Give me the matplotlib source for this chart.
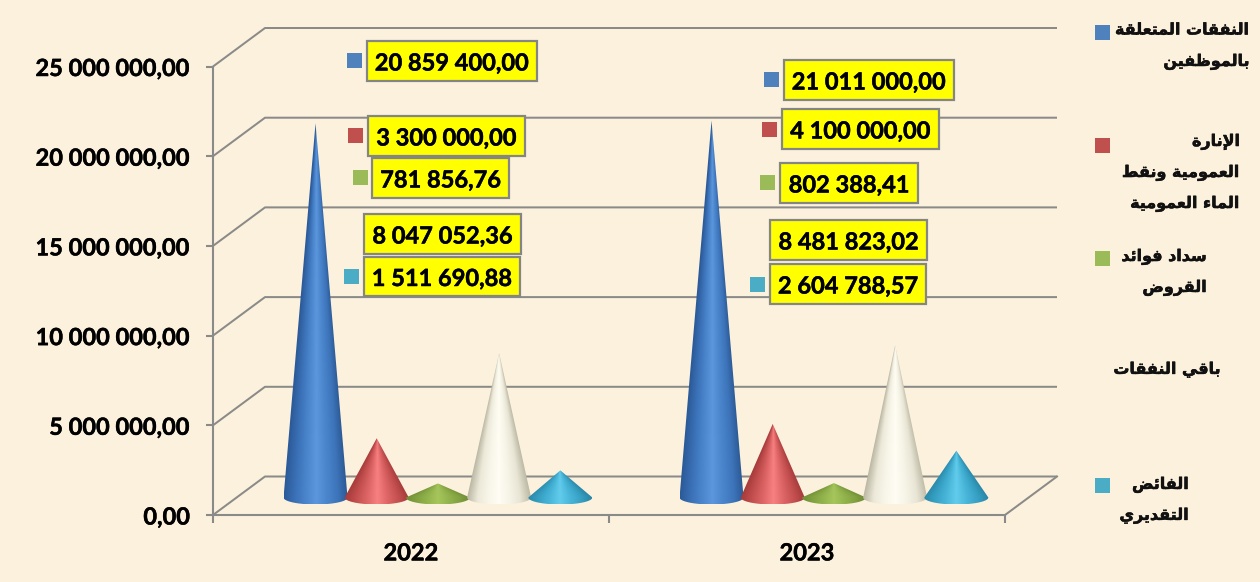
import numpy as np
import matplotlib
matplotlib.use("Agg")
import matplotlib.pyplot as plt
import matplotlib.patheffects as pe
from matplotlib.colors import to_rgb
from matplotlib.patches import Polygon, Rectangle
from matplotlib.ticker import FuncFormatter

# ---------- data ----------
years = ["2022", "2023"]
staff = [20859400.00, 21011000.00]
lighting = [3300000.00, 4100000.00]
interest = [781856.76, 802388.41]
other = [8047052.36, 8481823.02]
surplus = [1511690.88, 2604788.57]
series_values = [staff, lighting, interest, other, surplus]
series_names = [
    ["النفقات المتعلقة", "بالموظفين"],
    ["الإنارة", "العمومية ونقط", "الماء العمومية"],
    ["سداد فوائد", "القروض"],
    ["باقي النفقات"],
    ["الفائض", "التقديري"],
]
y_ticks = [0, 5000000, 10000000, 15000000, 20000000, 25000000]

# ---------- style ----------
BG = "#FCF1DD"
GRID = "#8A8A88"
key_colors = ["#4F81BD", "#C0504D", "#9BBB59", None, "#4BACC6"]
cone_stops = [
    ["#2C5A98", "#3A70B6", "#4A85CC", "#5C97DE", "#4A85CC", "#3D74BA", "#2A5690"],
    ["#A63A3A", "#C24E4E", "#DC6464", "#F98080", "#DC6464", "#C24E4E", "#A23838"],
    ["#6F8E36", "#82A140", "#93B44D", "#A6C65C", "#93B44D", "#82A140", "#6C8A34"],
    ["#B9B5A2", "#ECE9D9", "#F8F6E9", "#FFFDF4", "#F6F4E6", "#E8E5D5", "#BDB9A6"],
    ["#2A88A8", "#36A0C3", "#48B5D8", "#62CCEC", "#48B5D8", "#36A0C3", "#2884A4"],
]
# label boxes in pixels: left, top, right, bottom, key centre x, key centre y
box_layout = [
    [(367, 41, 537, 81, 354, 60), (784, 60, 954, 100, 771, 79)],
    [(368, 116, 525, 156, 355, 135), (782, 109, 939, 149, 769, 129)],
    [(372, 158, 509, 198, 360, 177), (780, 163, 918, 203, 767, 182)],
    [(364, 214, 521, 254, None, None), (770, 220, 927, 260, None, None)],
    [(364, 257, 520, 296, 351, 276), (770, 264, 926, 304, 757, 284)],
]
# legend: key top y, right edge of text, y of each text line
legend_layout = [
    (25, 1250, [30, 62]),
    (138, 1240, [142, 173, 204]),
    (251, 1207, [257, 288]),
    (None, 1221, [370]),
    (478, 1189, [485, 516]),
]

plt.rcParams["font.family"] = ["Lato", "DejaVu Sans"]

# ---------- Arabic shaping (matplotlib has no bidi or joining) ----------
FORMS = {
    "ء": (0xFE80, None, None, None), "إ": (0xFE87, 0xFE88, None, None),
    "ا": (0xFE8D, 0xFE8E, None, None), "ئ": (0xFE89, 0xFE8A, 0xFE8B, 0xFE8C),
    "ب": (0xFE8F, 0xFE90, 0xFE91, 0xFE92), "ة": (0xFE93, 0xFE94, None, None),
    "ت": (0xFE95, 0xFE96, 0xFE97, 0xFE98), "د": (0xFEA9, 0xFEAA, None, None),
    "ر": (0xFEAD, 0xFEAE, None, None), "س": (0xFEB1, 0xFEB2, 0xFEB3, 0xFEB4),
    "ض": (0xFEBD, 0xFEBE, 0xFEBF, 0xFEC0), "ط": (0xFEC1, 0xFEC2, 0xFEC3, 0xFEC4),
    "ظ": (0xFEC5, 0xFEC6, 0xFEC7, 0xFEC8), "ع": (0xFEC9, 0xFECA, 0xFECB, 0xFECC),
    "ف": (0xFED1, 0xFED2, 0xFED3, 0xFED4), "ق": (0xFED5, 0xFED6, 0xFED7, 0xFED8),
    "ل": (0xFEDD, 0xFEDE, 0xFEDF, 0xFEE0), "م": (0xFEE1, 0xFEE2, 0xFEE3, 0xFEE4),
    "ن": (0xFEE5, 0xFEE6, 0xFEE7, 0xFEE8), "و": (0xFEED, 0xFEEE, None, None),
    "ي": (0xFEF1, 0xFEF2, 0xFEF3, 0xFEF4),
}
LAM_ALEF = {"ا": (0xFEFB, 0xFEFC), "إ": (0xFEF9, 0xFEFA)}


def shape(line):
    out = []
    joined = False
    i = 0
    while i < len(line):
        c = line[i]
        if c not in FORMS:
            out.append(c)
            joined = False
            i += 1
            continue
        if c == "ل" and i + 1 < len(line) and line[i + 1] in LAM_ALEF:
            out.append(chr(LAM_ALEF[line[i + 1]][1 if joined else 0]))
            joined = False
            i += 2
            continue
        f = FORMS[c]
        nxt = line[i + 1] if i + 1 < len(line) else " "
        joins_next = f[2] is not None and nxt in FORMS
        if joined and joins_next:
            code = f[3]
        elif joined:
            code = f[1]
        elif joins_next:
            code = f[2]
        else:
            code = f[0]
        out.append(chr(code))
        joined = joins_next
        i += 1
    return "".join(reversed(out))


def fmt(v, _=None):
    return f"{v:,.2f}".replace(",", " ").replace(".", ",")


heavy = [pe.withStroke(linewidth=0.35, foreground="black")]

# ---------- figure and axes ----------
W, H = 1260, 582
fig = plt.figure(figsize=(W / 100, H / 100), dpi=100, facecolor=BG)
X0, X1, Y0, Y1 = 213, 1005, 515, 66.5
ax = fig.add_axes([X0 / W, (H - Y0) / H, (X1 - X0) / W, (Y0 - Y1) / H])
ax.patch.set_visible(False)
ax.set_xlim(0, 2)
ax.set_ylim(0, 25000000)
PX_X = 2 / (X1 - X0)
PX_Y = 25000000 / (Y0 - Y1)

for s in ("top", "right"):
    ax.spines[s].set_visible(False)
for s in ("left", "bottom"):
    ax.spines[s].set_color(GRID)
    ax.spines[s].set_linewidth(1.5)

ax.set_yticks(y_ticks)
ax.yaxis.set_major_formatter(FuncFormatter(fmt))
ax.tick_params(axis="y", length=5, width=1.5, color=GRID, pad=11.5)
ax.set_xticks([0, 1, 2])
ax.set_xticklabels([])
ax.tick_params(axis="x", which="major", length=5.5, width=1.5, color=GRID)
ax.set_xticks([0.5, 1.5], minor=True)
ax.set_xticklabels(years, minor=True)
ax.tick_params(axis="x", which="minor", length=0, pad=19)
for lab in ax.get_yticklabels() + ax.get_xticklabels(minor=True):
    lab.set_fontweight("bold")
    lab.set_fontsize(17)
    lab.set_color("black")
    lab.set_path_effects(heavy)

# back wall lines and floor edges
dx, dy = 52 * PX_X, 38.5 * PX_Y
for v in y_ticks:
    ax.plot([0, dx, 2 + dx], [v, v + dy, v + dy], color=GRID, lw=2 * 0.72,
            clip_on=False, zorder=1, solid_capstyle="butt")
ax.plot([2, 2 + dx], [0, dy], color=GRID, lw=1.44, clip_on=False, zorder=1)

# cones
group_centre = 0.568
spacing = 61.2 * PX_X
half_w = 32 * PX_X
base_y = 17.5 * PX_Y
ell_h = 7 * PX_Y


def cone(xc, value, stops, z):
    top = base_y + value
    bottom = base_y - ell_h
    xs = np.linspace(xc - half_w, xc + half_w, 240)
    ys = np.linspace(bottom, top, 320)
    xx, yy = np.meshgrid(xs, ys)
    frac = np.clip((top - yy) / value, 0.004, 1)
    u = np.clip((xx - xc) / (half_w * frac), -1, 1)
    pos = np.linspace(-1, 1, len(stops))
    rgbs = np.array([to_rgb(c) for c in stops])
    img = np.dstack([np.interp(u, pos, rgbs[:, k]) for k in range(3)])
    t = np.linspace(0, np.pi, 50)
    arc_x = xc - half_w * np.cos(t)
    arc_y = base_y - ell_h * np.sin(t)
    outline = np.column_stack([np.r_[xc, arc_x], np.r_[top, arc_y]])
    clip = Polygon(outline, closed=True, transform=ax.transData)
    im = ax.imshow(img, extent=(xs[0], xs[-1], ys[0], ys[-1]), origin="lower",
                   aspect="auto", zorder=z, interpolation="bilinear")
    im.set_clip_path(clip)


for i, (vals, stops) in enumerate(zip(series_values, cone_stops)):
    for c, v in enumerate(vals):
        cone(c + group_centre + (i - 2) * spacing, v, stops, 3 + i * 0.1)
ax.set_xlim(0, 2)
ax.set_ylim(0, 25000000)

# ---------- pixel overlay for labels and legend ----------
ov = fig.add_axes([0, 0, 1, 1], zorder=10)
ov.set_xlim(0, W)
ov.set_ylim(H, 0)
ov.axis("off")

for vals, layout, key in zip(series_values, box_layout, key_colors):
    for v, (l, t, r, b, kx, ky) in zip(vals, layout):
        ov.add_patch(Rectangle((l, t), r - l, b - t, facecolor="#FFFF00",
                               edgecolor="#858585", lw=1.6))
        ov.text((l + r) / 2, (t + b) / 2, fmt(v), ha="center", va="center_baseline",
                fontsize=17, fontweight="bold", color="black", path_effects=heavy)
        if key is not None:
            ov.add_patch(Rectangle((kx - 7.5, ky - 7.5), 15, 15, facecolor=key,
                                   edgecolor="none"))

for name, (top, right, ys), key in zip(series_names, legend_layout, key_colors):
    if key is not None:
        ov.add_patch(Rectangle((1095, top), 15, 15, facecolor=key, edgecolor="none"))
    for line, y in zip(name, ys):
        ov.text(right, y, shape(line), ha="right", va="center", fontsize=11.5,
                fontweight="bold", family=["DejaVu Sans"], color="#111111",
                path_effects=heavy)

fig.savefig("out.png", dpi=100, facecolor=BG)
